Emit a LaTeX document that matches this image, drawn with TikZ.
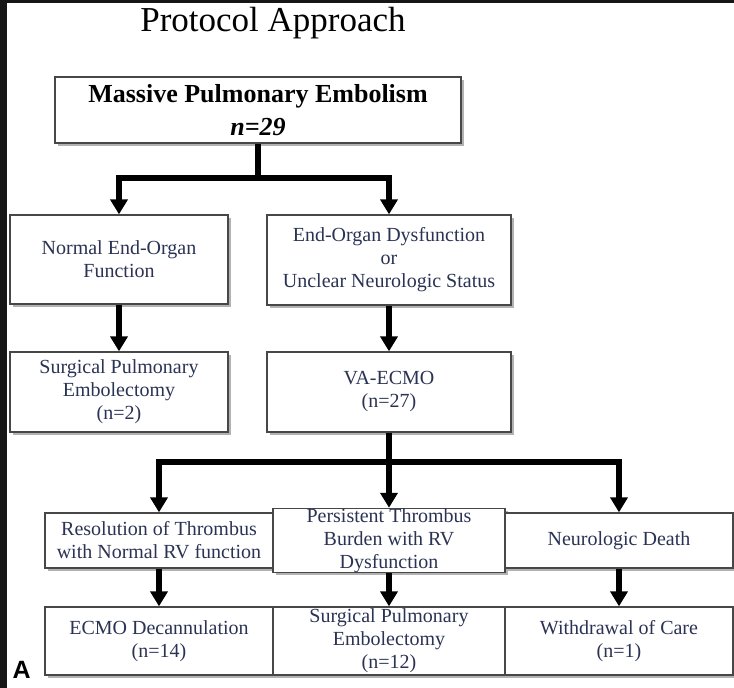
\documentclass[tikz,border=0pt]{standalone}
\usepackage{fontspec}
\setmainfont{Liberation Serif}
\setsansfont{Liberation Sans}
\usetikzlibrary{arrows.meta,shadows}

\begin{document}
\begin{tikzpicture}[x=1pt,y=-1pt,
  box/.style={draw=edge,line width=1.3pt,fill=white,inner sep=0pt,align=center,text=ink,
    font=\fontsize{20}{23}\selectfont,
    drop shadow={shadow xshift=2.5pt,shadow yshift=-2.5pt,fill=black,opacity=0.3}},
  flow/.style={line width=6pt,-{Triangle[length=15pt,width=17pt]}},
  bar/.style={line width=6pt}]
\definecolor{ink}{HTML}{2B3354}
\definecolor{edge}{HTML}{474747}
\definecolor{frame}{HTML}{161616}
\useasboundingbox (0,0) rectangle (734,688);
\fill[frame] (0,0) rectangle (7,688);
\fill[frame] (0,0) rectangle (734,3);
\node [font=\fontsize{35}{35}\selectfont,anchor=base] (title) at (273,31) {Protocol Approach};
\node [box,text=black,minimum width=406pt,minimum height=66pt,font=\fontsize{26}{33}\selectfont\bfseries] (mpe) at (258,110) {Massive Pulmonary Embolism\\\textit{n=29}};
\node [box,minimum width=218pt,minimum height=89pt] (normal) at (119,259.5) {Normal End-Organ\\Function};
\node [box,minimum width=244pt,minimum height=90pt] (endorg) at (389,260) {End-Organ Dysfunction\\or\\Unclear Neurologic Status};
\node [box,minimum width=218pt,minimum height=80pt] (sur1) at (119,392) {Surgical Pulmonary\\Embolectomy\\(n=2)};
\node [box,minimum width=244pt,minimum height=80pt] (vaecmo) at (389,392) {VA-ECMO\\(n=27)};
% outcome rows
\foreach \nm/\cx/\bw/\txt in {resol/159/228/{Resolution of Thrombus\\with Normal RV function},
    persist/389/232/{Persistent Thrombus\\Burden with RV\\Dysfunction},
    neuro/619/228/{Neurologic Death}}
  {\node [box,minimum width=\bw pt,minimum height=55pt] (\nm) at (\cx,540.5) {\txt};}
\foreach \nm/\cx/\bw/\txt in {decann/159/228/{ECMO Decannulation\\(n=14)},
    sur2/389/232/{Surgical Pulmonary\\Embolectomy\\(n=12)},
    withdraw/619/228/{Withdrawal of Care\\(n=1)}}
  {\node [box,minimum width=\bw pt,minimum height=68pt] (\nm) at (\cx,641) {\txt};}
\node [font=\sffamily\bfseries\fontsize{25}{25}\selectfont,anchor=base west] (panel) at (9,678) {A};
% connectors
\coordinate (split1) at (258,178);
\coordinate (split2) at (389,462);
\draw [bar] (mpe) -- (split1);
\draw [flow] (split1) -| (normal.north);
\draw [flow] (split1) -| (endorg.north);
\draw [flow] (normal) -- (sur1);
\draw [flow] (endorg) -- (vaecmo);
\draw [bar] (vaecmo) -- (split2);
\draw [flow] (split2) -| (resol.north);
\draw [flow] (split2) -- (persist.north);
\draw [flow] (split2) -| (neuro.north);
\foreach \a/\b in {resol/decann,persist/sur2,neuro/withdraw}
  {\draw [flow] (\a) -- (\b);}
\end{tikzpicture}
\end{document}
